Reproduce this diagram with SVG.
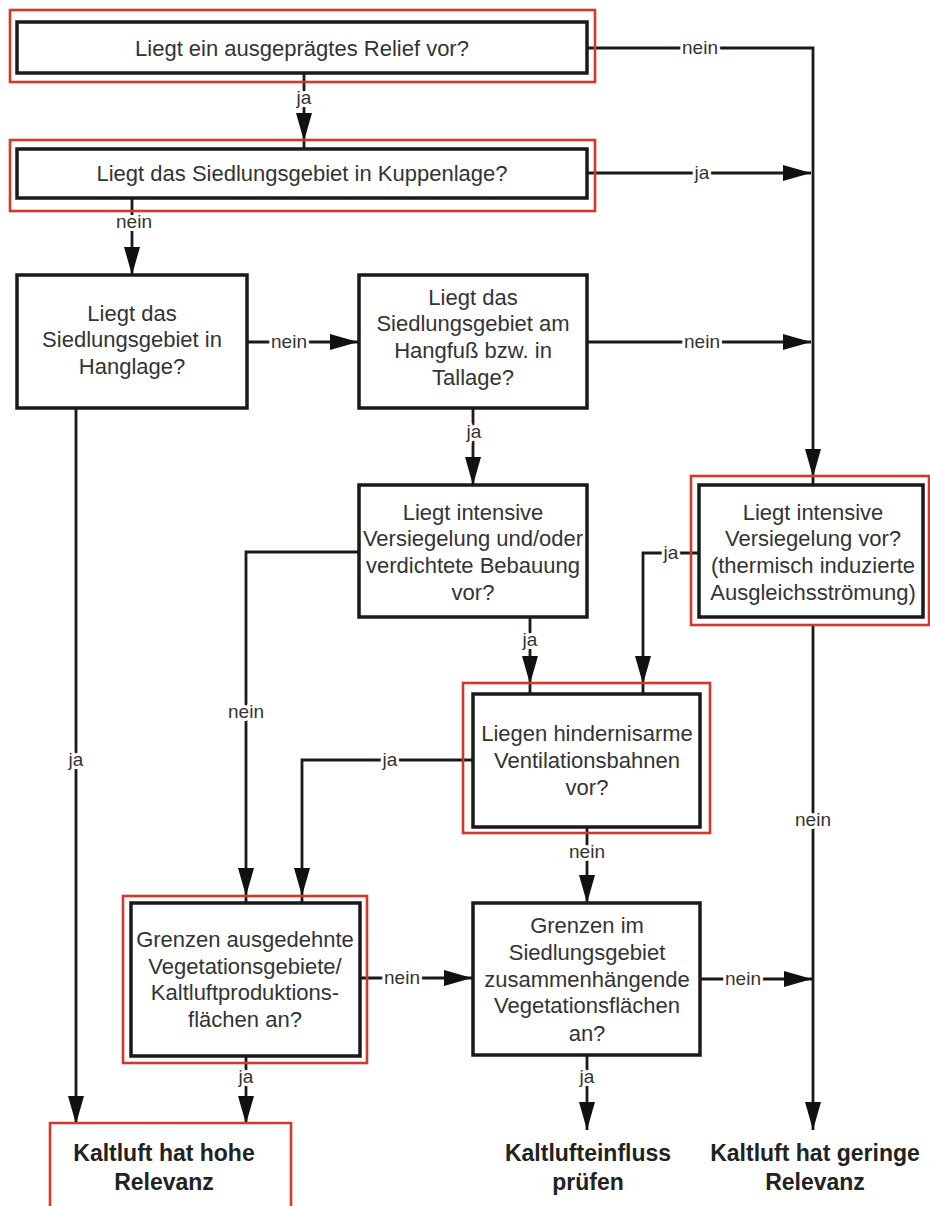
<svg xmlns="http://www.w3.org/2000/svg" width="930" height="1206" viewBox="0 0 930 1206">
<defs>
<marker id="arr" markerUnits="userSpaceOnUse" markerWidth="28" markerHeight="16" refX="28" refY="8" orient="auto">
<path d="M0,0 L28,8 L0,16 z" fill="#111"/>
</marker>
<style>
.box{fill:#fff;stroke:#1a1a1a;stroke-width:3.5}
.red{fill:none;stroke:#d2382d;stroke-width:2.6}
.t{font-family:"Liberation Sans",Arial,sans-serif;font-size:22px;fill:#333;text-anchor:middle}
.b{font-family:"Liberation Sans",Arial,sans-serif;font-size:23px;font-weight:bold;fill:#222;text-anchor:middle}
.c{fill:none;stroke:#1a1a1a;stroke-width:2.8}
.l{font-family:"Liberation Sans",Arial,sans-serif;font-size:19px;fill:#333;text-anchor:middle;stroke:#fff;stroke-width:6;paint-order:stroke;stroke-linejoin:round}
</style>
</defs>
<rect width="930" height="1206" fill="#fff"/>

<g id="connectors">
<path class="c" marker-end="url(#arr)" d="M304,141 V149 M304,73 V141"/>
<text class="l" x="304" y="104">ja</text>
<path class="c" marker-end="url(#arr)" d="M813,477 V485 M587,48 H813 V477"/>
<text class="l" x="700" y="54">nein</text>
<path class="c" marker-end="url(#arr)" d="M587,173 H811"/>
<text class="l" x="702" y="179">ja</text>
<path class="c" marker-end="url(#arr)" d="M132,198 V275"/>
<text class="l" x="134" y="228">nein</text>
<path class="c" marker-end="url(#arr)" d="M247,342 H358"/>
<text class="l" x="289" y="348">nein</text>
<path class="c" marker-end="url(#arr)" d="M76,408 V1124"/>
<text class="l" x="76" y="766">ja</text>
<path class="c" marker-end="url(#arr)" d="M587,342 H811"/>
<text class="l" x="702" y="348">nein</text>
<path class="c" marker-end="url(#arr)" d="M473,408 V485"/>
<text class="l" x="474" y="438">ja</text>
<path class="c" marker-end="url(#arr)" d="M246,896 V903 M359,552 H246 V896"/>
<text class="l" x="246" y="718">nein</text>
<path class="c" marker-end="url(#arr)" d="M530,684 V694 M530,617 V684"/>
<text class="l" x="530" y="646">ja</text>
<path class="c" marker-end="url(#arr)" d="M643,684 V694 M699,553 H643 V684"/>
<text class="l" x="671" y="559">ja</text>
<path class="c" marker-end="url(#arr)" d="M813,625 V1130"/>
<text class="l" x="813" y="826">nein</text>
<path class="c" marker-end="url(#arr)" d="M302,896 V903 M473,760 H302 V896"/>
<text class="l" x="390" y="766">ja</text>
<path class="c" marker-end="url(#arr)" d="M587,827 V903"/>
<text class="l" x="587" y="858">nein</text>
<path class="c" marker-end="url(#arr)" d="M360,978 H472"/>
<text class="l" x="402" y="984">nein</text>
<path class="c" marker-end="url(#arr)" d="M700,979 H812"/>
<text class="l" x="743" y="985">nein</text>
<path class="c" marker-end="url(#arr)" d="M246,1056 V1124"/>
<text class="l" x="246" y="1083">ja</text>
<path class="c" marker-end="url(#arr)" d="M587,1055 V1130"/>
<text class="l" x="587" y="1083">ja</text>
</g>

<g id="n1">
<rect class="red" x="10" y="10" width="585" height="72"/>
<rect class="box" x="17" y="22" width="570" height="51"/>
<text class="t" x="302" y="56">Liegt ein ausgeprägtes Relief vor?</text>
</g>

<g id="n2">
<rect class="red" x="10" y="140" width="585" height="71"/>
<rect class="box" x="17" y="149" width="570" height="49"/>
<text class="t" x="302" y="181">Liegt das Siedlungsgebiet in Kuppenlage?</text>
</g>

<g id="n3">
<rect class="box" x="17" y="275" width="230" height="133"/>
<text class="t" x="132" y="321">Liegt das</text>
<text class="t" x="132" y="347">Siedlungsgebiet in</text>
<text class="t" x="132" y="374">Hanglage?</text>
</g>

<g id="n4">
<rect class="box" x="359" y="275" width="228" height="133"/>
<text class="t" x="473" y="305">Liegt das</text>
<text class="t" x="473" y="331">Siedlungsgebiet am</text>
<text class="t" x="473" y="358">Hangfuß bzw. in</text>
<text class="t" x="473" y="385">Tallage?</text>
</g>

<g id="n5">
<rect class="box" x="359" y="485" width="228" height="132"/>
<text class="t" x="473" y="520">Liegt intensive</text>
<text class="t" x="473" y="546">Versiegelung und/oder</text>
<text class="t" x="473" y="573">verdichtete Bebauung</text>
<text class="t" x="473" y="600">vor?</text>
</g>

<g id="n6">
<rect class="red" x="691" y="476" width="238" height="149"/>
<rect class="box" x="699" y="485" width="224" height="132"/>
<text class="t" x="813" y="520">Liegt intensive</text>
<text class="t" x="813" y="546">Versiegelung vor?</text>
<text class="t" x="813" y="573">(thermisch induzierte</text>
<text class="t" x="813" y="600">Ausgleichsströmung)</text>
</g>

<g id="n7">
<rect class="red" x="463" y="683" width="247" height="150"/>
<rect class="box" x="473" y="694" width="227" height="133"/>
<text class="t" x="587" y="741">Liegen hindernisarme</text>
<text class="t" x="587" y="768">Ventilationsbahnen</text>
<text class="t" x="587" y="795">vor?</text>
</g>

<g id="n8">
<rect class="red" x="123" y="896" width="244" height="167"/>
<rect class="box" x="131" y="903" width="229" height="153"/>
<text class="t" x="245" y="947">Grenzen ausgedehnte</text>
<text class="t" x="245" y="974">Vegetationsgebiete/</text>
<text class="t" x="245" y="1000">Kaltluftproduktions-</text>
<text class="t" x="245" y="1027">flächen an?</text>
</g>

<g id="n9">
<rect class="box" x="473" y="903" width="227" height="152"/>
<text class="t" x="587" y="933">Grenzen im</text>
<text class="t" x="587" y="960">Siedlungsgebiet</text>
<text class="t" x="587" y="987">zusammenhängende</text>
<text class="t" x="587" y="1013">Vegetationsflächen</text>
<text class="t" x="587" y="1041">an?</text>
</g>

<g id="r1">
<path class="red" d="M50,1208 V1123 H291 V1208"/>
<text class="b" x="164" y="1161">Kaltluft hat hohe</text>
<text class="b" x="164" y="1190">Relevanz</text>
</g>

<g id="r2">
<text class="b" x="588" y="1161">Kaltlufteinfluss</text>
<text class="b" x="588" y="1190">prüfen</text>
</g>

<g id="r3">
<text class="b" x="815" y="1161">Kaltluft hat geringe</text>
<text class="b" x="815" y="1190">Relevanz</text>
</g>
</svg>
